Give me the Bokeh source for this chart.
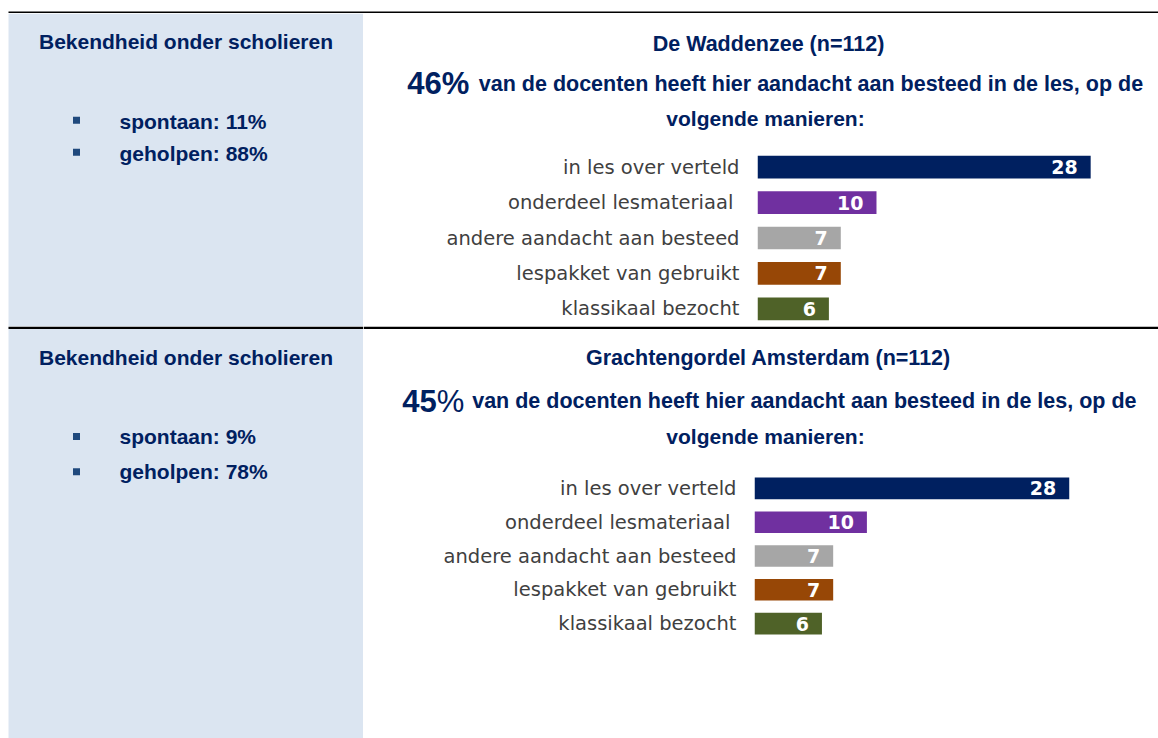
from bokeh.plotting import figure
from bokeh.models import Range1d, FactorRange, ColumnDataSource
from bokeh.layouts import column, row
from bokeh.core.properties import value
from bokeh.embed import file_html
from bokeh.resources import INLINE

# ---------------- data ----------------
categories = ["in les over verteld", "onderdeel lesmateriaal ", "andere aandacht aan besteed",
              "lespakket van gebruikt", "klassikaal bezocht"]
waddenzee_values = [28, 10, 7, 7, 6]
grachtengordel_values = [28, 10, 7, 7, 6]
bar_colors = ["#002060", "#7030a0", "#a6a6a6", "#974706", "#4f6228"]

panel_titles = ["De Waddenzee (n=112)", "Grachtengordel Amsterdam (n=112)"]
teacher_pct = [46, 45]
sentence = "van de docenten  heeft hier aandacht aan besteed in de les, op de"
sentence2 = "volgende manieren:"
left_title = "Bekendheid onder scholieren"
spontaan = [11, 9]
geholpen = [88, 78]

NAVY = "#002060"
PANEL = "#dbe5f1"
BOLD_FONT = "Liberation Sans"
LABEL_FONT = "DejaVu Sans"
RIGHT_W = 795
LEFT_W = 363
DY = 7  # baseline correction


def pix_fig(w, h, bg="white", **kw):
    p = figure(width=w, height=h, x_range=Range1d(0, w), y_range=Range1d(h, 0),
               output_backend="svg", toolbar_location=None, min_border=0,
               x_axis_location=None, y_axis_location=None, **kw)
    p.grid.visible = False
    p.outline_line_color = None
    p.background_fill_color = bg
    p.border_fill_color = bg
    return p


def divider(p, x0, x1):
    p.quad(left=[x0], right=[x1], top=[0], bottom=[2.5], fill_color="black", line_color=None)


def glyph_text(p, x, y, txt, size, align="left", style="bold"):
    p.text(x=[x], y=[y - DY], text=[txt], text_align=align, text_baseline="alphabetic",
           text_font=value(BOLD_FONT), text_font_style=style, text_font_size=size,
           text_color=NAVY)


def left_panel(h, title_y, bullet_y, text_y, sp, ge, top_divider=False):
    p = pix_fig(LEFT_W, h)
    p.quad(left=[8], right=[LEFT_W], top=[0], bottom=[h], fill_color=PANEL, line_color=None)
    if top_divider:
        divider(p, 8, LEFT_W)
    glyph_text(p, 185.5, title_y, left_title, "21px", align="center")
    p.rect(x=[76, 76], y=bullet_y, width=7, height=7, fill_color="#1f497d", line_color=None)
    glyph_text(p, 119, text_y[0], f"spontaan: {sp}%", "21px")
    glyph_text(p, 119, text_y[1], f"geholpen: {ge}%", "21px")
    return p


def title_panel(h, idx, title_y, line_y, pct_x, sent_x, sent2_y, top_divider=False):
    p = pix_fig(RIGHT_W, h)
    if top_divider:
        divider(p, 0, RIGHT_W)
    glyph_text(p, 405, title_y, panel_titles[idx], "21.5px", align="center")
    if idx == 0:
        glyph_text(p, pct_x, line_y, f"{teacher_pct[idx]}%", "31px")
    else:
        glyph_text(p, pct_x, line_y, f"{teacher_pct[idx]}", "31px")
        glyph_text(p, pct_x + 34.5, line_y, "%", "31px", style="normal")
    glyph_text(p, sent_x, line_y, sentence, "21.5px")
    glyph_text(p, 402, sent2_y, sentence2, "21px", align="center")
    return p


def bar_panel(h, vals, left_w, x_end, bottom_border):
    src = ColumnDataSource(dict(cat=categories, val=vals, color=bar_colors,
                                label=[str(v) for v in vals]))
    yr = FactorRange(*reversed(categories))

    # category labels
    lab = figure(width=left_w, height=h, x_range=Range1d(0, left_w), y_range=yr,
                 output_backend="svg", toolbar_location=None, min_border=0,
                 min_border_bottom=bottom_border, x_axis_location=None, y_axis_location=None)
    lab.grid.visible = False
    lab.outline_line_color = None
    lab.text(x=left_w - 18, y="cat", text="cat", text_align="right", text_baseline="middle",
             text_font=value(LABEL_FONT), text_font_size="19.5px", text_color="#404040",
             source=src)

    # bars
    p = figure(width=RIGHT_W - left_w, height=h, y_range=yr, x_range=Range1d(0, x_end),
               output_backend="svg", toolbar_location=None, min_border=0,
               min_border_bottom=bottom_border, x_axis_location=None, y_axis_location=None)
    p.grid.visible = False
    p.outline_line_color = None
    p.hbar(y="cat", left=0, right="val", height=0.64, fill_color="color",
           line_color=None, source=src)
    p.text(x="val", y="cat", text="label", x_offset=-13, text_align="right",
           text_baseline="middle", text_color="white", text_font=value(LABEL_FONT),
           text_font_style="bold", text_font_size="19px", source=src)
    return row(lab, p, spacing=0)


top_line = pix_fig(LEFT_W + RIGHT_W, 13)
top_line.quad(left=[8], right=[LEFT_W + RIGHT_W], top=[11], bottom=[13],
              fill_color="black", line_color=None)

left1 = left_panel(313, 35.3, [106.7, 138.7], [115.3, 147], spontaan[0], geholpen[0])
title1 = title_panel(136, 0, 37.5, 77, 43.7, 115.3, 112)
bars1 = bar_panel(177, waddenzee_values, 394, 33.7, 0)

left2 = left_panel(412, 38.3, [110, 145.3], [117.3, 152], spontaan[1], geholpen[1],
                   top_divider=True)
title2 = title_panel(145, 1, 38.5, 81.7, 38.7, 108.7, 117, top_divider=True)
bars2 = bar_panel(267, grachtengordel_values, 391, 35.94, 98)

layout = column(
    top_line,
    row(left1, column(title1, bars1, spacing=0), spacing=0),
    row(left2, column(title2, bars2, spacing=0), spacing=0),
    spacing=0,
)

open("out.html", "w").write(file_html(layout, INLINE))
